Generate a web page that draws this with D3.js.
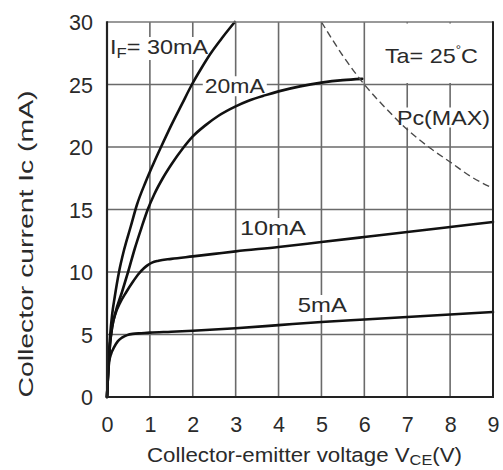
<!DOCTYPE html>
<html><head><meta charset="utf-8">
<script src="https://cdn.jsdelivr.net/npm/d3@7"></script>
<style>
html,body{margin:0;padding:0;background:#fff;}
svg{display:block;}
text{font-family:"Liberation Sans",Arial,Helvetica,sans-serif;fill:#2a2a2a;}
</style></head>
<body>
<svg id="chart" width="503" height="470"></svg>
<script>
// ---- data ----
const xTicks = [0,1,2,3,4,5,6,7,8,9];
const yTicks = [0,5,10,15,20,25,30];

const vce30 = [0,0.03,0.07,0.12,0.18,0.28,0.4,0.55,0.7,0.9,1.1,1.26,1.5,1.75,1.98,2.2,2.4,2.7,2.98];
const ic30  = [0,2.5,4.8,6.6,8.0,10.0,11.8,13.6,15.4,17.2,18.8,20.0,21.75,23.45,25.0,26.3,27.4,28.8,30.0];

const vce20 = [0,0.03,0.07,0.12,0.2,0.35,0.5,0.65,0.8,0.95,1.1,1.3,1.5,1.77,2.0,2.3,2.6,3.0,3.3,3.7,4.0,4.5,5.0,5.5,5.95];
const ic20  = [0,2.2,4.2,5.6,6.8,8.4,10.1,11.9,13.5,15.0,16.2,17.5,18.6,19.9,20.85,21.75,22.5,23.25,23.7,24.15,24.45,24.85,25.15,25.35,25.45];

const vce10 = [0,0.03,0.07,0.12,0.2,0.3,0.45,0.6,0.75,0.86,0.95,1.05,1.2,1.5,2.0,2.5,3.0,4.0,5.0,6.0,7.0,8.0,9.0];
const ic10  = [0,2.2,4.2,5.6,6.7,7.5,8.4,9.2,9.9,10.3,10.55,10.75,10.9,11.05,11.25,11.45,11.65,12.0,12.4,12.8,13.2,13.6,14.0];

const vce5 = [0,0.02,0.05,0.1,0.16,0.25,0.35,0.47,0.6,0.8,1.0,1.5,2.0,3.0,4.0,5.0,6.0,7.0,8.0,9.0];
const ic5  = [0,1.5,2.8,3.5,3.95,4.45,4.75,4.95,5.05,5.1,5.15,5.22,5.3,5.5,5.75,6.0,6.2,6.4,6.6,6.8];

const vcePc = [5,5.5,6,6.5,7,7.5,8,8.5,9];
const icPc  = [30,27.3,25,23.1,21.4,20,18.8,17.6,16.7];

const xTitle = "Collector-emitter voltage V";
const xTitleSub = "CE";
const xTitleEnd = "(V)";
const yTitle = "Collector current Ic (mA)";

// ---- drawing ----
const svg = d3.select("#chart");
const x = d3.scaleLinear().domain([0,9]).range([107,493]);
const y = d3.scaleLinear().domain([0,30]).range([397,22]);

const gGrid = svg.append("g");
const gBg = svg.append("g");
const gCurves = svg.append("g");
const gFrame = svg.append("g");
const gText = svg.append("g");

// grid
gGrid.selectAll("line.v").data(xTicks.slice(1,-1)).join("line")
  .attr("x1",d=>x(d)).attr("x2",d=>x(d)).attr("y1",y(30)).attr("y2",y(0))
  .attr("stroke","#6a6a6a").attr("stroke-width",1.6);
gGrid.selectAll("line.h").data(yTicks.slice(1,-1)).join("line")
  .attr("y1",d=>y(d)).attr("y2",d=>y(d)).attr("x1",x(0)).attr("x2",x(9))
  .attr("stroke","#6a6a6a").attr("stroke-width",1.6);

// frame
gFrame.append("line").attr("x1",x(0)).attr("x2",x(9)).attr("y1",y(30)).attr("y2",y(30)).attr("stroke","#777").attr("stroke-width",1.6);
gFrame.append("line").attr("x1",x(9)).attr("x2",x(9)).attr("y1",y(30)-0.8).attr("y2",y(0)).attr("stroke","#222").attr("stroke-width",2);
gFrame.append("line").attr("x1",x(0)).attr("x2",x(0)).attr("y1",y(30)-0.8).attr("y2",y(0)+1).attr("stroke","#222").attr("stroke-width",2.2);
gFrame.append("line").attr("x1",x(0)-1).attr("x2",x(9)+1).attr("y1",y(0)).attr("y2",y(0)).attr("stroke","#222").attr("stroke-width",2.2);

// axes tick labels via d3 axes
const xAxis = d3.axisBottom(x).tickValues(xTicks).tickFormat(d3.format("d")).tickSize(0).tickPadding(0);
const gx = svg.append("g").attr("transform",`translate(0,${y(0)})`).call(xAxis);
gx.select(".domain").remove();
gx.selectAll("text").attr("y",35).attr("dy",null).style("font-size","21.5px").attr("fill","#2a2a2a");

const yAxis = d3.axisLeft(y).tickValues(yTicks).tickFormat(d3.format("d")).tickSize(0).tickPadding(0);
const gy = svg.append("g").attr("transform",`translate(${x(0)},0)`).call(yAxis);
gy.select(".domain").remove();
gy.selectAll("text").attr("x",-14).attr("dy","0.36em").style("font-size","21.5px").attr("fill","#2a2a2a");

// axis titles
const xt = gText.append("text").attr("x",147).attr("y",462).style("font-size","20.5px")
  .attr("textLength",315).attr("lengthAdjust","spacingAndGlyphs");
xt.append("tspan").text(xTitle);
xt.append("tspan").attr("dy",3).style("font-size","15px").text(xTitleSub);
xt.append("tspan").attr("dy",-3).text(xTitleEnd);

gText.append("text").attr("transform","translate(33,244) rotate(-90)")
  .attr("text-anchor","middle").style("font-size","20.5px")
  .attr("textLength",307).attr("lengthAdjust","spacingAndGlyphs").text(yTitle);

// Ta box clears grid in top-right cell
gBg.append("rect").attr("x",x(6)+1.5).attr("y",y(30)+1.5)
  .attr("width",x(9)-x(6)-3).attr("height",y(25)-y(30)-3).attr("fill","#fff");

// curves
const line = d3.line().x(d=>x(d[0])).y(d=>y(d[1])).curve(d3.curveMonotoneX);
const series = [[vce30,ic30],[vce20,ic20],[vce10,ic10],[vce5,ic5]];
series.forEach(([vs,is])=>{
  gCurves.append("path").datum(vs.map((v,i)=>[v,is[i]]))
    .attr("d",line).attr("fill","none").attr("stroke","#111").attr("stroke-width",2.6)
    .attr("stroke-linejoin","round").attr("stroke-linecap","round");
});
gCurves.append("path").datum(vcePc.map((v,i)=>[v,icPc[i]]))
  .attr("d",line)
  .attr("fill","none").attr("stroke","#4a4a4a").attr("stroke-width",1.4).attr("stroke-dasharray","7,4");

// labels (with white background that breaks the grid)
function label(vx, iy, parts, opts={}){
  const t = gText.append("text").attr("x",x(vx)).attr("y",y(iy)).style("font-size",(opts.size||21)+"px");
  parts.forEach(p=>{
    const s = t.append("tspan").text(p.t);
    if(p.sub){ s.attr("dy",4).style("font-size","15px"); }
    if(p.sup){ s.attr("dy",-9).style("font-size","12px"); }
    if(p.back){ s.attr("dy",p.back); }
  });
  if(opts.len) t.attr("textLength",opts.len).attr("lengthAdjust","spacingAndGlyphs");
  const b = t.node().getBBox();
  const pad = opts.pad==null?2:opts.pad;
  gBg.append("rect").attr("x",b.x-pad).attr("y",b.y+2).attr("width",b.width+2*pad).attr("height",b.height-3).attr("fill","#fff");
  return t;
}
label(0.07, 27.44, [{t:"I"},{t:"F",sub:true},{t:"= 30mA",back:-4}], {len:98});
label(2.28, 24.3, [{t:"20mA"}], {len:60});
label(6.48, 26.7, [{t:"Ta= 25"},{t:"°",sup:true},{t:"C",back:9}], {len:93});
label(6.76, 21.8, [{t:"Pc(MAX)"}], {len:93});
label(3.1, 12.96, [{t:"10mA"}], {len:66});
label(4.45, 6.8, [{t:"5mA"}], {len:49});
</script>
</body></html>
